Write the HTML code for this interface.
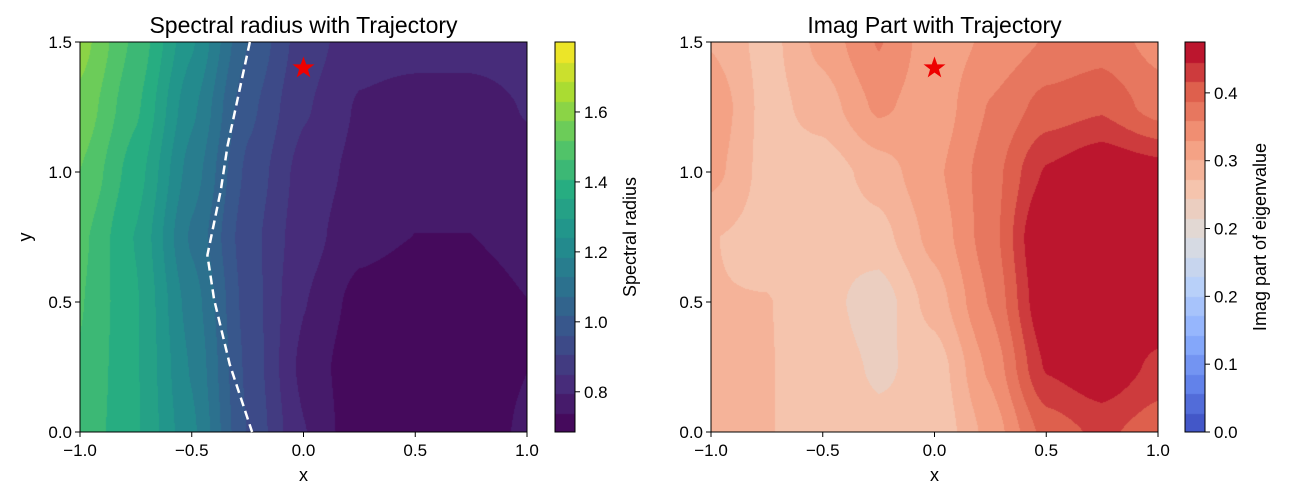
<!DOCTYPE html>
<html><head><meta charset="utf-8">
<style>
body{margin:0;background:#fff;width:1300px;height:500px;overflow:hidden;font-family:"Liberation Sans",sans-serif;}
#wrap{position:relative;width:1300px;height:500px;}
canvas{position:absolute;}
svg{position:absolute;left:0;top:0;}
</style></head>
<body>
<div id="wrap">
<canvas id="c1" width="447" height="390" style="left:80px;top:42px"></canvas>
<canvas id="c2" width="447" height="390" style="left:711px;top:42px"></canvas>
<canvas id="cb1" width="20" height="390" style="left:555px;top:42px"></canvas>
<canvas id="cb2" width="20" height="390" style="left:1185px;top:42px"></canvas>
<svg id="s" width="1300" height="500"></svg>
</div>
<script>
// grid coordinates
const xs = [-1,-0.75,-0.5,-0.25,0,0.25,0.5,0.75,1];
const ys = [0,0.25,0.5,0.75,1.0,1.25,1.5];
// spectral radius values, rows by y
const rhoGrid = [
 [1.45,1.36,1.20,0.96,0.80,0.70,0.70,0.71,0.75],
 [1.46,1.36,1.18,0.95,0.78,0.70,0.70,0.71,0.74],
 [1.47,1.36,1.16,0.94,0.80,0.72,0.70,0.71,0.74],
 [1.48,1.35,1.12,0.93,0.82,0.76,0.74,0.74,0.76],
 [1.52,1.38,1.16,0.95,0.83,0.78,0.76,0.76,0.78],
 [1.56,1.42,1.20,0.98,0.86,0.79,0.77,0.77,0.80],
 [1.60,1.45,1.25,1.02,0.88,0.82,0.82,0.82,0.82]
];
// imaginary part values, rows by y
const imGrid = [
 [0.30,0.30,0.29,0.282,0.28,0.33,0.40,0.42,0.40],
 [0.30,0.30,0.29,0.272,0.285,0.35,0.44,0.46,0.43],
 [0.30,0.30,0.285,0.262,0.31,0.37,0.46,0.47,0.46],
 [0.30,0.29,0.282,0.29,0.33,0.38,0.47,0.47,0.47],
 [0.33,0.29,0.285,0.31,0.34,0.38,0.44,0.46,0.45],
 [0.34,0.29,0.31,0.35,0.33,0.37,0.40,0.41,0.38],
 [0.32,0.29,0.33,0.37,0.33,0.35,0.37,0.38,0.36]
];
// trajectory
const trajX = [-0.24,-0.34,-0.37,-0.43,-0.40,-0.33,-0.23];
const trajY = [1.5,1.1,0.93,0.68,0.51,0.26,0.0];
const starX = [0], starY = [1.4];
const xTicks = [-1,-0.5,0,0.5,1], xTickLabels = ["−1.0","−0.5","0.0","0.5","1.0"];
const yTicks = [0,0.5,1,1.5], yTickLabels = ["0.0","0.5","1.0","1.5"];
const cb1Ticks = [0.8,1.0,1.2,1.4,1.6], cb1Labels = ["0.8","1.0","1.2","1.4","1.6"];
const cb2Ticks = [0,0.08,0.16,0.24,0.32,0.40], cb2Labels = ["0.0","0.1","0.2","0.2","0.3","0.4"];
const lim1 = [0.685,1.80], lim2 = [0,0.46];
const nBands = 20;

const viridis=[[68,1,84],[71,44,122],[59,81,139],[44,113,142],[33,144,141],[39,173,129],[92,200,99],[170,220,50],[253,231,37]];
const coolwarm=[[59,76,192],[98,130,234],[141,176,254],[184,208,249],[221,221,221],[245,196,173],[244,154,123],[222,96,77],[180,4,38]];
function cmap(a,t){t=Math.max(0,Math.min(1,t));const p=t*(a.length-1),i=Math.min(a.length-2,Math.floor(p)),f=p-i;return a[i].map((v,k)=>Math.round(v+(a[i+1][k]-v)*f));}
function sample(g,x,y){
 let fx=(x-xs[0])/(xs[1]-xs[0]),fy=(y-ys[0])/(ys[1]-ys[0]);
 let i=Math.min(xs.length-2,Math.max(0,Math.floor(fx))),j=Math.min(ys.length-2,Math.max(0,Math.floor(fy)));
 let u=fx-i,v=fy-j;
 u=u*u*(3-2*u)*0.5+u*0.5; v=v*v*(3-2*v)*0.5+v*0.5;
 return g[j][i]*(1-u)*(1-v)+g[j][i+1]*u*(1-v)+g[j+1][i]*(1-u)*v+g[j+1][i+1]*u*v;
}
function bandColor(val,lim,cm){let k=Math.floor((val-lim[0])/(lim[1]-lim[0])*nBands);k=Math.max(0,Math.min(nBands-1,k));return cmap(cm,(k+0.5)/nBands);}
function draw(id,g,lim,cm){
 const c=document.getElementById(id),ctx=c.getContext('2d'),W=c.width,H=c.height,im=ctx.createImageData(W,H);
 for(let py=0;py<H;py++)for(let px=0;px<W;px++){
  const x=-1+2*px/(W-1),y=1.5*(1-py/(H-1));
  const col=bandColor(sample(g,x,y),lim,cm),o=(py*W+px)*4;
  im.data[o]=col[0];im.data[o+1]=col[1];im.data[o+2]=col[2];im.data[o+3]=255;}
 ctx.putImageData(im,0,0);
}
function drawCb(id,cm){
 const c=document.getElementById(id),ctx=c.getContext('2d');
 for(let k=0;k<nBands;k++){const col=cmap(cm,(k+0.5)/nBands);ctx.fillStyle=`rgb(${col})`;
  const y0=390-(k+1)*390/nBands;ctx.fillRect(0,Math.floor(y0),20,Math.ceil(390/nBands)+1);}
}
draw('c1',rhoGrid,lim1,viridis);draw('c2',imGrid,lim2,coolwarm);
drawCb('cb1',viridis);drawCb('cb2',coolwarm);

const s=document.getElementById('s'),NS='http://www.w3.org/2000/svg';
function el(t,a,txt){const e=document.createElementNS(NS,t);for(const k in a)e.setAttribute(k,a[k]);if(txt!=null)e.textContent=txt;s.appendChild(e);return e;}
function starPts(cx,cy,R,r){let p=[];for(let i=0;i<10;i++){const a=-Math.PI/2+i*Math.PI/5,rr=i%2?r:R;p.push((cx+rr*Math.cos(a)).toFixed(1)+','+(cy+rr*Math.sin(a)).toFixed(1));}return p.join(' ');}
function panel(L,title,p){
 const T=42,W=447,H=390;
 const sx=x=>L+(x+1)/2*W, sy=y=>T+H-(y/1.5)*H;
 let e=el('rect',{x:L,y:T,width:W,height:H,fill:'none',stroke:'#000','stroke-width':1});
 
 xTicks.forEach((v,i)=>{const x=sx(v);el('line',{x1:x,x2:x,y1:T+H,y2:T+H+5,stroke:'#000'});
  e=el('text',{x:x,y:T+H+24,'font-size':17,'text-anchor':'middle'},xTickLabels[i]);
  });
 yTicks.forEach((v,i)=>{const y=sy(v);el('line',{x1:L-5,x2:L,y1:y,y2:y,stroke:'#000'});
  e=el('text',{x:L-8,y:y+6,'font-size':17,'text-anchor':'end'},yTickLabels[i]);
  });
 e=el('text',{x:L+W/2,y:481,'font-size':18,'text-anchor':'middle'},'x');
 
 e=el('text',{x:L+W/2,y:33,'font-size':23,'text-anchor':'middle'},title);
 
 return {sx,sy};
}
const a1=panel(80,'Spectral radius with Trajectory','left');
const a2=panel(711,'Imag Part with Trajectory','right');
let e=el('text',{x:0,y:0,'font-size':18,'text-anchor':'middle',transform:'translate(31,237) rotate(-90)'},'y');

e=el('polyline',{points:trajX.map((x,i)=>a1.sx(x)+','+a1.sy(trajY[i])).join(' '),fill:'none',stroke:'#fff','stroke-width':2.5,'stroke-dasharray':'9,5'});

e=el('polygon',{points:starPts(a1.sx(starX[0]),a1.sy(starY[0]),10,4),fill:'#e00',stroke:'#e00'});

e=el('polygon',{points:starPts(a2.sx(starX[0]),a2.sy(starY[0]),10,4),fill:'#e00',stroke:'#e00'});

function cbAxis(L,ticks,labels,lim,label,p){
 el('rect',{x:L,y:42,width:20,height:390,fill:'none',stroke:'#000'});
 ticks.forEach((v,i)=>{const y=432-(v-lim[0])/(lim[1]-lim[0])*390;el('line',{x1:L+20,x2:L+25,y1:y,y2:y,stroke:'#000'});
  const t=el('text',{x:L+29,y:y+6,'font-size':17},labels[i]);});
 const t=el('text',{x:0,y:0,'font-size':18,'text-anchor':'middle',transform:`translate(${L+81},237) rotate(-90)`},label);
 
}
cbAxis(555,cb1Ticks,cb1Labels,lim1,'Spectral radius','left');
cbAxis(1185,cb2Ticks,cb2Labels,lim2,'Imag part of eigenvalue','right');
</script>
</body></html>
